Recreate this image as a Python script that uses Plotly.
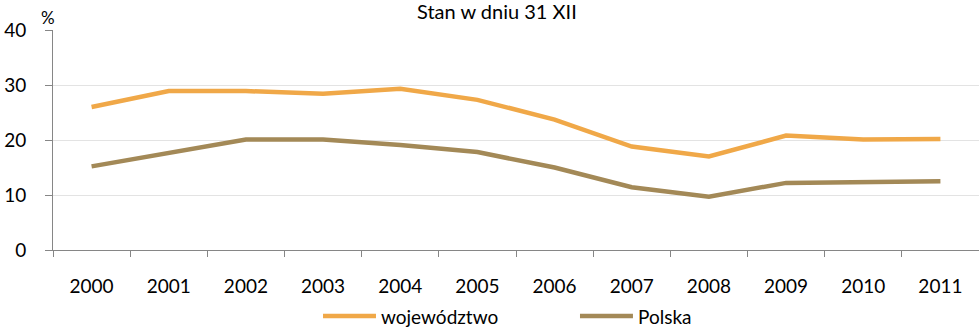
import plotly.graph_objects as go

years = ["2000", "2001", "2002", "2003", "2004", "2005",
         "2006", "2007", "2008", "2009", "2010", "2011"]
wojewodztwo = [26.0, 28.9, 28.9, 28.4, 29.3, 27.3, 23.7, 18.8, 17.0, 20.8, 20.1, 20.2]
polska = [15.2, 17.6, 20.1, 20.1, 19.1, 17.8, 15.0, 11.4, 9.7, 12.2, 12.3, 12.5]
y_ticks = [0, 10, 20, 30, 40]

FONT = "Lato"
ORANGE = "#F0A848"
BROWN = "#A38957"
series = [("województwo", wojewodztwo, ORANGE), ("Polska", polska, BROWN)]

fig = go.Figure()
for name, values, color in series:
    fig.add_trace(go.Scatter(x=years, y=values, name=name, mode="lines",
                             line=dict(color=color, width=4.5), showlegend=False))

# legend drawn below the plot: a long line sample followed by the series name
legend_y = -0.300
legend_x = [(0.2916, 0.3488), (0.5691, 0.6263)]
shapes = []
annotations = []
for (name, _, color), (x0, x1) in zip(series, legend_x):
    shapes.append(dict(type="line", xref="paper", yref="paper", x0=x0, x1=x1,
                       y0=legend_y, y1=legend_y, line=dict(color=color, width=4.5)))
    annotations.append(dict(text=name, xref="paper", yref="paper", x=x1, y=legend_y,
                            xanchor="left", yanchor="middle", xshift=3, showarrow=False,
                            font=dict(size=19)))

annotations += [
    dict(text="Stan w dniu 31 XII", xref="paper", yref="paper", x=0.479, y=1,
         xanchor="center", yanchor="middle", yshift=19, showarrow=False,
         font=dict(size=20)),
    dict(text="%", xref="paper", yref="paper", x=0, y=1, xanchor="center",
         yanchor="middle", xshift=-5, yshift=13, showarrow=False,
         font=dict(size=17)),
]

fig.update_layout(
    width=979, height=327,
    margin=dict(l=53, r=0, t=30, b=77, autoexpand=False),
    paper_bgcolor="white", plot_bgcolor="white",
    font=dict(family=FONT, size=18, color="#000000"),
    showlegend=False,
    shapes=shapes,
    annotations=annotations,
)

fig.update_xaxes(
    type="category", range=[-0.5, 11.5], tickson="boundaries",
    ticks="outside", ticklen=6, tickcolor="#868686", tickwidth=1,
    showline=True, linecolor="#868686", linewidth=1,
    showgrid=False, ticklabelstandoff=19, tickfont=dict(size=19),
)
fig.update_yaxes(
    range=[0, 40], tickvals=y_ticks, ticks="outside", ticklen=7,
    tickcolor="#868686", tickwidth=1,
    showline=True, linecolor="#868686", linewidth=1,
    showgrid=True, gridcolor="#E3E3E3", gridwidth=1, zeroline=False,
    ticklabelstandoff=15, tickfont=dict(size=19),
)

fig.write_html("out.html")
